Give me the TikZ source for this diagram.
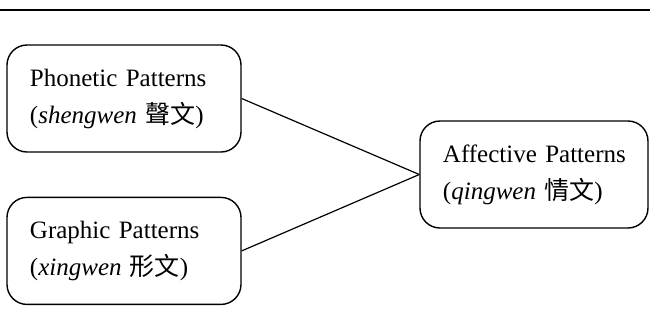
\documentclass[tikz,border=0pt]{standalone}
\usepackage{fontspec}
\setmainfont{Liberation Serif}
\newfontfamily\cjk{Noto Sans CJK TC}
\usetikzlibrary{positioning}

\begin{document}
\begin{tikzpicture}[node distance=1cm, auto,]
  % styles
  \tikzset{
   patternbox/.style={
           rectangle,
           rounded corners=10pt,
           draw=black,
           line width=0.7pt,
           minimum width=117pt,
           minimum height=53.5pt,
           text width=94pt,
           inner xsep=11.5pt,
           align=left,
           font=\fontsize{12.5pt}{18.5pt}\selectfont},
    % connector style
    link/.style={
           line width=0.6pt,}
    }

  % frame and top rule
  \useasboundingbox (0,0) rectangle (325pt,-164pt);
  \draw[line width=0.75pt] (0,-5pt) -- (325pt,-5pt);

  % boxes
  \node[patternbox] (phonetic) at (62pt,-49.25pt) {Phonetic Patterns\\(\textit{shengwen} {\cjk 聲文})};
  \node[patternbox, below=22pt of phonetic] (graphic) {Graphic Patterns\\(\textit{xingwen} {\cjk 形文})};
  \node[patternbox, minimum width=114pt, text width=91pt] (affective) at (267pt,-87.25pt) {\mbox{Affective Patterns}\\(\textit{qingwen} {\cjk 情文})};

  \draw[link] (phonetic.east) -- (affective.west);
  \draw[link] (graphic.east) -- (affective.west);
\end{tikzpicture}
\end{document}
